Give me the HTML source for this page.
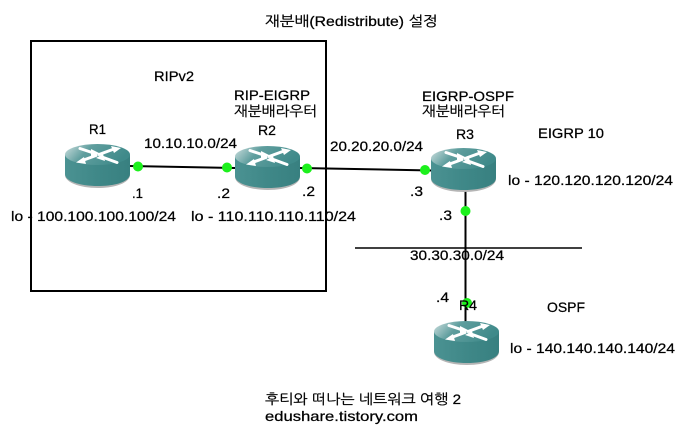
<!DOCTYPE html>
<html>
<head>
<meta charset="utf-8">
<style>
html,body{margin:0;padding:0;background:#fff;width:693px;height:428px;overflow:hidden}
svg{display:block}
text{font-family:"Liberation Sans","NanumGothic","Noto Sans CJK KR",sans-serif;font-size:14px;fill:#000;stroke:#000;stroke-width:.25px}
text.k{font-size:14px}
</style>
</head>
<body>
<svg width="693" height="428" viewBox="0 0 693 428" xmlns="http://www.w3.org/2000/svg">
<defs>
<linearGradient id="top" x1="0" y1="0" x2="1" y2="0.3">
<stop offset="0" stop-color="#cfe0e0"/>
<stop offset="0.4" stop-color="#5f9e9e"/>
<stop offset="1" stop-color="#3f8a8a"/>
</linearGradient>
<linearGradient id="side" x1="0" y1="0" x2="1" y2="0">
<stop offset="0" stop-color="#4b9292"/>
<stop offset="0.5" stop-color="#3f8888"/>
<stop offset="1" stop-color="#388080"/>
</linearGradient>
<g id="router">
<path d="M0 11 V30 C0 37 14 43 33 43 C52 43 65 37 65 30 V11 Z" fill="#b5b5b5" transform="translate(0,1)"/>
<path d="M0 11 V30 C0 37 14 42 33 42 C52 42 65 37 65 30 V11 Z" fill="url(#side)"/>
<ellipse cx="32.500" cy="10.500" rx="32.500" ry="10.500" fill="url(#top)"/>
<g stroke="#fff" stroke-width="3" fill="none" stroke-linecap="round">
<line x1="15" y1="4.500" x2="27" y2="8.500"/>
<line x1="34" y1="10.500" x2="49" y2="5"/>
<line x1="16" y1="17" x2="31" y2="11.500"/>
<line x1="37" y1="13" x2="52" y2="18.500"/>
</g>
<g fill="#fff">
<polygon points="26,5 35,9.500 26,12"/>
<polygon points="46,2 56,4 49,9"/>
<polygon points="19,13 11,18.500 21,20"/>
<polygon points="38,10 31,14 40,17"/>
</g>
</g>
</defs>

<rect x="31" y="41" width="295" height="250" fill="none" stroke="#000" stroke-width="2"/>

<g stroke="#000" stroke-width="2" fill="none">
<line x1="130" y1="166" x2="235" y2="168"/>
<line x1="300" y1="168" x2="432" y2="170.500"/>
<line x1="465.500" y1="190" x2="465.500" y2="322"/>
</g>
<line x1="355" y1="248" x2="582" y2="248" stroke="#000" stroke-width="1.500"/>

<use href="#router" x="65" y="144"/>
<use href="#router" x="235" y="146"/>
<use href="#router" x="431" y="148"/>
<use href="#router" x="434" y="321"/>

<g fill="#1cf01c">
<circle cx="138" cy="166.500" r="5"/>
<circle cx="227" cy="167.500" r="5"/>
<circle cx="307" cy="168.500" r="5"/>
<circle cx="425" cy="170" r="5"/>
<circle cx="465.500" cy="211" r="5"/>
<circle cx="467" cy="303" r="5"/>
</g>

<text class="k" x="265" y="26" textLength="173" lengthAdjust="spacingAndGlyphs">재분배(Redistribute) 설정</text>
<text x="154" y="81" textLength="40" lengthAdjust="spacingAndGlyphs">RIPv2</text>
<text x="234" y="100" textLength="76" lengthAdjust="spacingAndGlyphs">RIP-EIGRP</text>
<text class="k" x="234" y="116" textLength="83" lengthAdjust="spacingAndGlyphs">재분배라우터</text>
<text x="422" y="101" textLength="92" lengthAdjust="spacingAndGlyphs">EIGRP-OSPF</text>
<text class="k" x="422" y="116" textLength="83" lengthAdjust="spacingAndGlyphs">재분배라우터</text>
<text x="89" y="134" textLength="17" lengthAdjust="spacingAndGlyphs">R1</text>
<text x="258" y="135" textLength="18" lengthAdjust="spacingAndGlyphs">R2</text>
<text x="456" y="139" textLength="18" lengthAdjust="spacingAndGlyphs">R3</text>
<text x="538" y="138" textLength="66" lengthAdjust="spacingAndGlyphs">EIGRP 10</text>
<text x="144" y="148" textLength="93" lengthAdjust="spacingAndGlyphs">10.10.10.0/24</text>
<text x="330" y="151" textLength="93" lengthAdjust="spacingAndGlyphs">20.20.20.0/24</text>
<text x="508" y="185" textLength="165" lengthAdjust="spacingAndGlyphs">lo - 120.120.120.120/24</text>
<text x="132" y="198" textLength="11" lengthAdjust="spacingAndGlyphs">.1</text>
<text x="217" y="198" textLength="13" lengthAdjust="spacingAndGlyphs">.2</text>
<text x="302" y="196" textLength="13" lengthAdjust="spacingAndGlyphs">.2</text>
<text x="410" y="196" textLength="13" lengthAdjust="spacingAndGlyphs">.3</text>
<text x="11" y="221" textLength="165" lengthAdjust="spacingAndGlyphs">lo - 100.100.100.100/24</text>
<text x="191" y="221" textLength="165" lengthAdjust="spacingAndGlyphs">lo - 110.110.110.110/24</text>
<text x="439" y="220" textLength="13" lengthAdjust="spacingAndGlyphs">.3</text>
<text x="410" y="260" textLength="94" lengthAdjust="spacingAndGlyphs">30.30.30.0/24</text>
<text x="436" y="302" textLength="13" lengthAdjust="spacingAndGlyphs">.4</text>
<text x="459" y="310" textLength="18" lengthAdjust="spacingAndGlyphs">R4</text>
<text x="547" y="312" textLength="38" lengthAdjust="spacingAndGlyphs">OSPF</text>
<text x="510" y="353" textLength="165" lengthAdjust="spacingAndGlyphs">lo - 140.140.140.140/24</text>
<text class="k" x="265" y="404" textLength="196" lengthAdjust="spacingAndGlyphs">후티와 떠나는 네트워크 여행 2</text>
<text x="265" y="421" textLength="153" lengthAdjust="spacingAndGlyphs">edushare.tistory.com</text>
</svg>
</body>
</html>
